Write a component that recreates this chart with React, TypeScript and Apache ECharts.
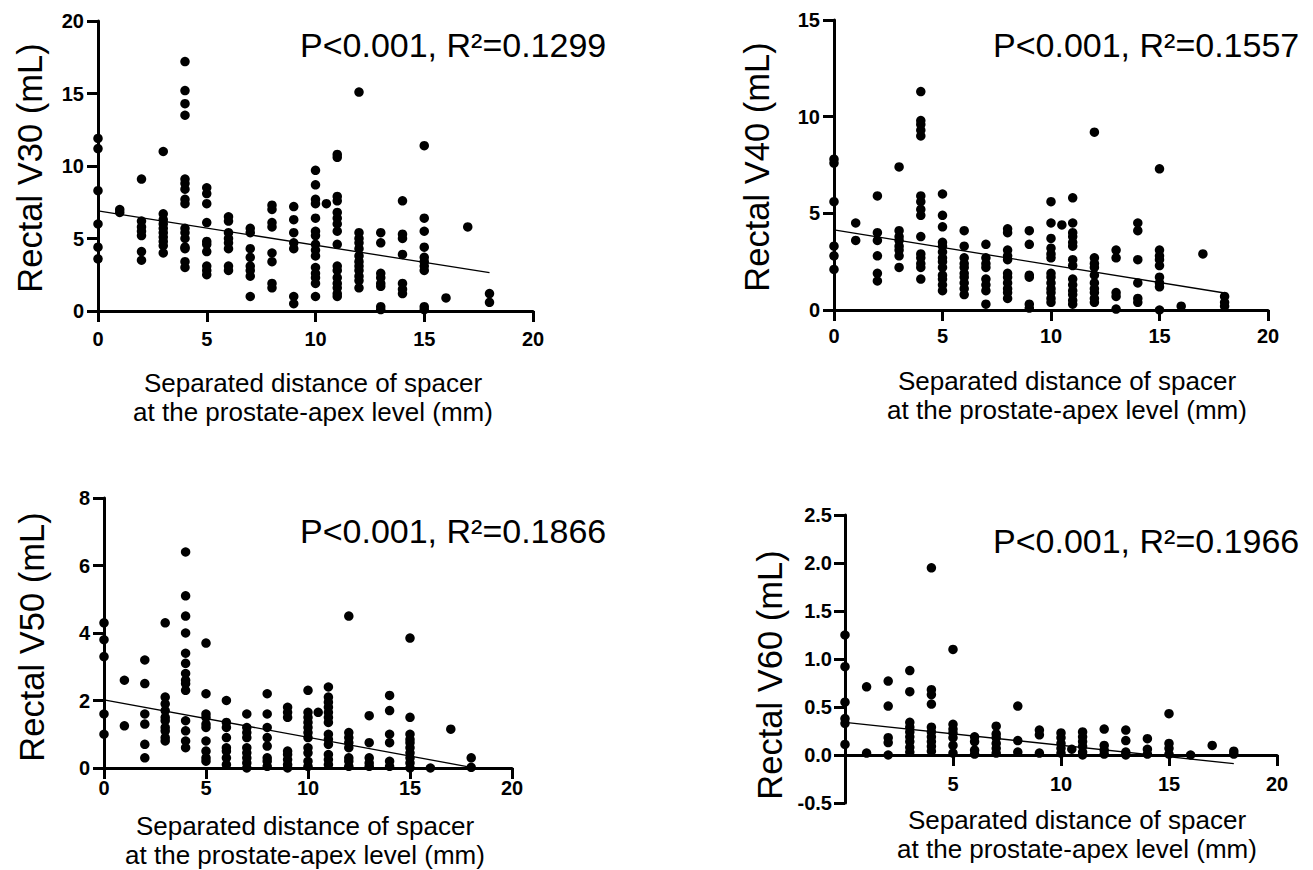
import React, { useEffect, useRef } from 'react';
import * as echarts from 'echarts';

// Each group: [separated distance (mm), rectal volume values (mL)]
const v30Groups: [number, number[]][] = [
  [0, [11.9, 11.2, 8.3, 6.0, 4.4, 3.6]],
  [1, [7.0, 6.8]],
  [2, [9.1, 6.2, 5.8, 5.5, 5.2, 4.1, 3.5]],
  [3, [11.0, 6.7, 6.3, 6.0, 5.7, 5.4, 5.1, 4.8, 4.5, 4.0]],
  [4, [17.2, 15.2, 14.3, 13.5, 9.1, 8.8, 8.4, 7.7, 7.4, 5.7, 5.4, 5.0, 4.4, 4.3, 3.4, 3.0]],
  [5, [8.5, 8.1, 7.4, 6.1, 4.8, 4.6, 4.1, 3.1, 2.8, 2.5]],
  [6, [6.5, 6.2, 5.4, 5.0, 4.7, 4.3, 3.1, 2.8]],
  [7, [5.7, 5.4, 4.3, 3.7, 3.1, 2.8, 2.4, 1.0]],
  [8, [7.3, 7.0, 6.1, 5.8, 4.0, 3.4, 1.9, 1.6]],
  [9, [7.2, 6.3, 5.4, 4.7, 4.3, 1.0, 0.5]],
  [10, [9.7, 8.7, 7.7, 7.4, 6.4, 5.5, 5.2, 4.6, 4.2, 3.8, 3.0, 2.6, 2.3, 1.9, 1.0]],
  [10.5, [7.4]],
  [11, [10.8, 10.6, 7.9, 7.6, 6.8, 6.4, 6.0, 5.5, 4.6, 3.1, 2.8, 2.3, 1.9, 1.6, 1.2, 1.0]],
  [12, [15.1, 5.4, 5.0, 4.7, 4.3, 3.8, 3.4, 3.1, 2.8, 2.4, 2.1, 1.6]],
  [13, [5.4, 4.7, 2.6, 2.3, 1.9, 1.7, 0.3, 0.1]],
  [14, [7.6, 5.3, 5.0, 3.9, 1.9, 1.5, 1.2]],
  [15, [11.4, 6.4, 5.5, 4.4, 3.7, 3.4, 3.1, 2.8, 0.3, 0.1]],
  [16, [0.9]],
  [17, [5.8]],
  [18, [1.2, 0.6]],
];

const v40Groups: [number, number[]][] = [
  [0, [7.8, 7.6, 5.6, 3.3, 2.8, 2.1]],
  [1, [4.5, 3.6]],
  [2, [5.9, 4.0, 3.6, 2.8, 1.9, 1.5]],
  [3, [7.4, 4.1, 3.8, 3.6, 3.3, 3.1, 2.8, 2.2]],
  [4, [11.3, 9.8, 9.6, 9.3, 9.0, 5.9, 5.6, 5.2, 4.9, 3.8, 2.9, 2.7, 2.4, 2.2, 1.6]],
  [5, [6.0, 4.9, 4.3, 3.5, 3.3, 3.0, 2.7, 2.5, 2.2, 1.8, 1.6, 1.3, 1.0]],
  [6, [4.1, 3.3, 2.7, 2.4, 2.2, 1.9, 1.7, 1.4, 1.1, 0.8]],
  [7, [3.4, 2.7, 2.4, 2.2, 1.6, 1.3, 1.0, 0.3]],
  [8, [4.2, 4.0, 3.1, 2.8, 2.6, 1.9, 1.7, 1.4, 1.1, 0.9, 0.6]],
  [9, [4.1, 3.4, 1.8, 1.7, 0.3, 0.1]],
  [10, [5.6, 4.5, 3.7, 3.2, 2.9, 2.7, 1.9, 1.7, 1.4, 1.1, 0.9, 0.6, 0.4]],
  [10.5, [4.4]],
  [11, [5.8, 4.5, 4.0, 3.8, 3.5, 3.3, 2.6, 2.3, 1.6, 1.3, 1.0, 0.8, 0.5, 0.3]],
  [12, [9.2, 2.7, 2.4, 2.2, 1.8, 1.4, 1.1, 0.9, 0.6, 0.4]],
  [13, [3.1, 2.7, 0.9, 0.7, 0.05]],
  [14, [4.5, 4.1, 2.6, 1.4, 0.6, 0.4]],
  [15, [7.3, 3.1, 2.8, 2.6, 2.3, 1.7, 1.4, 1.2, 0.0]],
  [16, [0.2]],
  [17, [2.9]],
  [18, [0.7, 0.4, 0.2]],
];

const v50Groups: [number, number[]][] = [
  [0, [4.3, 3.8, 3.3, 1.6, 1.0]],
  [1, [2.6, 1.25]],
  [2, [3.2, 2.5, 1.6, 1.3, 0.7, 0.3]],
  [3, [4.3, 2.1, 1.9, 1.7, 1.5, 1.4, 1.2, 1.1, 0.9, 0.8]],
  [4, [6.4, 5.1, 4.5, 4.0, 3.4, 3.1, 2.8, 2.6, 2.5, 2.3, 1.4, 1.1, 0.8, 0.6]],
  [5, [3.7, 2.2, 1.6, 1.5, 1.3, 1.2, 0.8, 0.5, 0.3, 0.2]],
  [6, [2.0, 1.35, 1.2, 0.9, 0.6, 0.5, 0.3, 0.1]],
  [7, [1.6, 1.2, 1.05, 0.9, 0.6, 0.45, 0.3, 0.15, 0.0]],
  [8, [2.2, 1.6, 1.2, 0.9, 0.65, 0.3, 0.2, 0.05]],
  [9, [1.8, 1.65, 1.5, 0.5, 0.4, 0.25, 0.1, 0.0]],
  [10, [2.3, 1.65, 1.5, 1.35, 1.2, 1.05, 0.9, 0.6, 0.45, 0.2, 0.05]],
  [10.5, [1.65]],
  [11, [2.4, 2.1, 1.95, 1.8, 1.65, 1.5, 1.35, 1.0, 0.85, 0.7, 0.4, 0.25, 0.1]],
  [12, [4.5, 1.05, 0.9, 0.75, 0.6, 0.3, 0.2, 0.05]],
  [13, [1.55, 0.75, 0.3, 0.15, 0.05]],
  [14, [2.15, 1.7, 1.0, 0.75, 0.2, 0.05]],
  [15, [3.85, 1.5, 1.0, 0.85, 0.75, 0.6, 0.45, 0.3, 0.15, 0.0]],
  [16, [0.0]],
  [17, [1.15]],
  [18, [0.3, 0.02]],
];

const v60Groups: [number, number[]][] = [
  [0, [1.25, 0.92, 0.55, 0.38, 0.33, 0.11]],
  [1, [0.71, 0.02]],
  [2, [0.77, 0.51, 0.18, 0.13, 0.0]],
  [3, [0.88, 0.66, 0.34, 0.29, 0.24, 0.19, 0.14, 0.08, 0.03]],
  [4, [1.95, 0.68, 0.63, 0.53, 0.29, 0.24, 0.19, 0.14, 0.09, 0.04]],
  [5, [1.1, 0.32, 0.27, 0.23, 0.18, 0.1, 0.02]],
  [6, [0.19, 0.14, 0.05, 0.01]],
  [7, [0.3, 0.22, 0.18, 0.12, 0.07, 0.02]],
  [8, [0.51, 0.15, 0.03]],
  [9, [0.26, 0.21, 0.02]],
  [10, [0.23, 0.18, 0.12, 0.07, 0.02]],
  [10.5, [0.06]],
  [11, [0.24, 0.19, 0.14, 0.09, 0.03, 0.0]],
  [12, [0.27, 0.1, 0.05, 0.01]],
  [13, [0.26, 0.15, 0.03, 0.0]],
  [14, [0.17, 0.06, 0.01]],
  [15, [0.43, 0.12, 0.07, 0.01]],
  [16, [0.0]],
  [17, [0.1]],
  [18, [0.04, 0.01]],
];

// Regression line end points [distance, volume]
const v30Fit: [number, number][] = [[0, 6.9], [18, 2.65]];
const v40Fit: [number, number][] = [[0, 4.14], [18, 0.88]];
const v50Fit: [number, number][] = [[0, 2.02], [18, 0.02]];
const v60Fit: [number, number][] = [[0, 0.34], [18, -0.09]];

const annotations = [
  'P<0.001, R²=0.1299',
  'P<0.001, R²=0.1557',
  'P<0.001, R²=0.1866',
  'P<0.001, R²=0.1966',
];
const yTitles = ['Rectal V30 (mL)', 'Rectal V40 (mL)', 'Rectal V50 (mL)', 'Rectal V60 (mL)'];
const xTitle = 'Separated distance of spacer\nat the prostate-apex level (mm)';

const xTicks = { min: 0, max: 20, interval: 5 };
const yRanges = [
  { min: 0, max: 20, interval: 5, decimals: 0 },
  { min: 0, max: 15, interval: 5, decimals: 0 },
  { min: 0, max: 8, interval: 2, decimals: 0 },
  { min: -0.5, max: 2.5, interval: 0.5, decimals: 1 },
];

const FONT = 'Liberation Sans, Arial, Helvetica, sans-serif';

const flatten = (groups: [number, number[]][]) =>
  groups.flatMap(([x, ys]) => ys.map((y) => [x, y]));

export default function App() {
  const ref = useRef<HTMLDivElement>(null);

  useEffect(() => {
    document.body.style.margin = '0';
    if (!ref.current) return;
    const chart = echarts.init(ref.current, undefined, { renderer: 'svg' });

    const groups = [v30Groups, v40Groups, v50Groups, v60Groups];
    const fits = [v30Fit, v40Fit, v50Fit, v60Fit];

    const grids = [
      { left: 98, top: 21, width: 435, height: 290 },
      { left: 834, top: 20, width: 434, height: 290 },
      { left: 104, top: 498, width: 408, height: 270 },
      { left: 845, top: 515, width: 432, height: 288 },
    ];
    const xLabelMargin = [18, 16, 10, 19];
    const yLabelMargin = [14, 14, 14, 13];
    // panel 4: x axis sits on y = 0 (48px above the grid bottom)
    const xOffset = [0, 0, 0, -48];

    const axisStroke = () => ({ color: '#000', width: 3 });

    const option: any = {
      animation: false,
      backgroundColor: '#fff',
      grid: grids.map((g) => ({ ...g, containLabel: false, outerBoundsMode: 'none' })),
      xAxis: grids.map((_, i) => ({
        type: 'value',
        gridIndex: i,
        position: 'bottom',
        offset: xOffset[i],
        min: xTicks.min,
        max: xTicks.max,
        interval: xTicks.interval,
        axisLine: { show: true, onZero: false, lineStyle: axisStroke() },
        axisTick: { show: true, length: 11, lineStyle: axisStroke() },
        splitLine: { show: false },
        axisLabel: {
          color: '#000',
          fontWeight: 'bold',
          fontSize: 20,
          fontFamily: FONT,
          margin: xLabelMargin[i],
          formatter: (v: number) => (i === 3 && v === 0 ? '' : String(v)),
        },
      })),
      yAxis: yRanges.map((r, i) => ({
        type: 'value',
        gridIndex: i,
        position: 'left',
        min: r.min,
        max: r.max,
        interval: r.interval,
        axisLine: { show: true, onZero: false, lineStyle: axisStroke() },
        axisTick: { show: true, length: 11, lineStyle: axisStroke() },
        splitLine: { show: false },
        axisLabel: {
          color: '#000',
          fontWeight: 'bold',
          fontSize: 20,
          fontFamily: FONT,
          margin: yLabelMargin[i],
          formatter: (v: number) => v.toFixed(r.decimals),
        },
      })),
      series: [
        ...groups.map((g, i) => ({
          type: 'scatter',
          xAxisIndex: i,
          yAxisIndex: i,
          data: flatten(g),
          symbol: 'circle',
          symbolSize: 9.5,
          clip: false,
          itemStyle: { color: '#000', opacity: 1 },
          z: 3,
        })),
        ...fits.map((f, i) => ({
          type: 'line',
          xAxisIndex: i,
          yAxisIndex: i,
          data: f,
          symbol: 'none',
          clip: false,
          lineStyle: { color: '#000', width: 1.3 },
          z: 4,
        })),
      ],
      graphic: [
        ...annotations.map((t, i) => ({
          type: 'text',
          x: [300, 993, 300, 993][i],
          y: [45, 45, 531, 541][i],
          style: {
            text: t,
            fill: '#000',
            fontSize: 34,
            fontFamily: FONT,
            align: 'left',
            verticalAlign: 'middle',
          },
        })),
        ...yTitles.map((t, i) => ({
          type: 'text',
          x: [30, 757, 32, 770][i],
          y: [168, 167, 637, 675][i],
          rotation: Math.PI / 2,
          style: {
            text: t,
            fill: '#000',
            fontSize: 34.5,
            fontFamily: FONT,
            align: 'center',
            verticalAlign: 'middle',
          },
        })),
        ...[0, 1, 2, 3].map((i) => ({
          type: 'text',
          x: [313, 1067, 305, 1077][i],
          y: [397, 395, 840, 834][i],
          style: {
            text: xTitle,
            fill: '#000',
            fontSize: 26,
            lineHeight: 29,
            fontFamily: FONT,
            align: 'center',
            verticalAlign: 'middle',
          },
        })),
      ],
    };

    chart.setOption(option);
    return () => chart.dispose();
  }, []);

  return <div ref={ref} style={{ width: 1313, height: 870 }} />;
}
